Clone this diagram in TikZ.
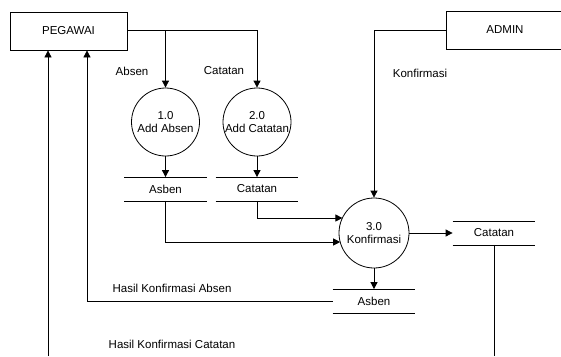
\documentclass[tikz,border=0pt]{standalone}
\usepackage{fontspec}
\setmainfont{Liberation Sans}
\usetikzlibrary{arrows.meta,calc}
\begin{document}
\begin{tikzpicture}[x=1pt,y=-1pt, line width=0.8pt,
  font=\fontsize{11.5}{13}\selectfont,
  ent/.style={draw, minimum width=117pt, minimum height=38pt, inner sep=0pt},
  proc/.style={draw, circle, inner sep=0pt, align=center, font=\fontsize{11.5}{12.5}\selectfont},
  store/.style={minimum width=82pt, minimum height=23pt, inner sep=0pt},
  arr/.style={-{Triangle[length=7pt,width=7pt]}},
  lbl/.style={inner sep=0pt}]
\useasboundingbox (0,0) rectangle (561,356);
\clip (0,0) rectangle (561,356);

% entities
\node[ent] (peg) at (68.5,31) {PEGAWAI};
\node[ent, minimum width=118pt] (adm) at (505,30) {ADMIN};

% processes
\node[proc, minimum size=68pt] (p1) at (165.5,122) {1.0\\Add Absen};
\node[proc, minimum size=68pt] (p2) at (257,122) {2.0\\Add Catatan};
\node[proc, minimum size=70pt] (p3) at (374,233) {3.0\\Konfirmasi};

% stores
\node[store] (s1) at (165.5,189) {Asben};
\node[store] (s2) at (257,189) {Catatan};
\node[store] (s3) at (374,301) {Asben};
\node[store] (s4) at (494,233) {Catatan};
\foreach \s in {s1,s2,s3,s4}
  \draw (\s.north west) -- (\s.north east) (\s.south west) -- (\s.south east);

% coordinates
\coordinate (b1) at (165.5,30);
\coordinate (b2) at (257,30);
\coordinate (a1) at (374,30);
\coordinate (c1) at (165.5,242);
\coordinate (c1e) at (340.2,242);
\coordinate (c2) at (257,218);
\coordinate (c2e) at (342.4,218);
\coordinate (h1) at (87,301);
\coordinate (e1) at (494,356);
\coordinate (e2) at (48,356);

% flows
\draw (peg.east |- b1) -- (b2);
\draw[arr] (b1) -- (p1.north);
\draw[arr] (b2) -- (p2.north);
\draw[arr] (p1.south) -- (s1.north);
\draw[arr] (p2.south) -- (s2.north);
\draw[arr] (s1.south) -- (c1) -- (c1e);
\draw[arr] (s2.south) -- (c2) -- (c2e);
\draw[arr] (adm.west |- a1) -- (a1) -- (p3.north);
\draw[arr] (p3.east) -- (s4.west);
\draw[arr] (p3.south) -- (s3.north);
\draw[arr] (s3.west) -- (h1) -- (h1 |- peg.south);
\draw (s4.south) -- (e1);
\draw[arr] (e2) -- (e2 |- peg.south);

% labels
\node[lbl] (l1) at (132,71) {Absen};
\node[lbl] (l2) at (224,71) {Catatan};
\node[lbl] (l3) at (420,73) {Konfirmasi};
\node[lbl] (l4) at (172,288) {Hasil Konfirmasi Absen};
\node[lbl] (l5) at (172,344) {Hasil Konfirmasi Catatan};
\end{tikzpicture}
\end{document}
